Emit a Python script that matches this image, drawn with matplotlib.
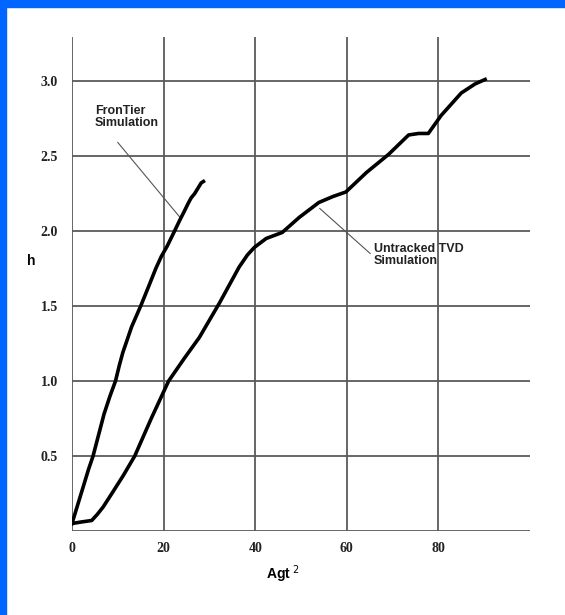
import matplotlib
matplotlib.use("Agg")
import matplotlib.pyplot as plt
from matplotlib.patches import Rectangle

# FronTier simulation curve
frontier_x = [0, 1.2, 2.5, 3.6, 4.6, 5.8, 7.0, 8.3, 9.5, 10.3, 11.1, 12.0, 13.0, 14.0, 15.0,
              16.6, 18.3, 19.5, 20.8, 22.4, 23.5, 24.5, 25.3, 26.0, 26.8, 27.6, 28.2, 28.7]
frontier_h = [0.05, 0.17, 0.30, 0.41, 0.50, 0.64, 0.78, 0.90, 1.00, 1.10, 1.19, 1.27, 1.36, 1.43, 1.50,
              1.62, 1.75, 1.83, 1.90, 2.00, 2.07, 2.13, 2.18, 2.22, 2.25, 2.29, 2.32, 2.33]

# Untracked TVD simulation curve
tvd_x = [0, 2.0, 4.3, 5.5, 6.8, 8.7, 11.2, 13.7, 17.3, 21.1, 24.5, 27.8, 32.2, 36.5, 38.3, 39.8, 42.4,
         45.9, 49.6, 53.9, 57.0, 59.8, 64.3, 69.1, 73.5, 75.7, 77.8, 79.2, 80.6, 85.0, 88.0, 90.2]
tvd_h = [0.05, 0.06, 0.07, 0.11, 0.16, 0.25, 0.37, 0.50, 0.75, 1.00, 1.15, 1.29, 1.52, 1.76, 1.84, 1.89, 1.95,
         1.99, 2.09, 2.19, 2.23, 2.26, 2.39, 2.51, 2.64, 2.65, 2.65, 2.71, 2.77, 2.92, 2.98, 3.01]

x_ticks = [0, 20, 40, 60, 80]
x_tick_labels = ["0", "20", "40", "60", "80"]
y_ticks = [0.5, 1.0, 1.5, 2.0, 2.5, 3.0]
y_tick_labels = ["0.5", "1.0", "1.5", "2.0", "2.5", "3.0"]

W, H = 565, 615
fig = plt.figure(figsize=(W / 100, H / 100), dpi=100)
fig.patch.set_facecolor("white")

# blue frame on top and left edges
fig.patches.append(Rectangle((0, 1 - 7 / H), 1, 7 / H, transform=fig.transFigure,
                             color="#0066ff", zorder=0))
fig.patches.append(Rectangle((0, 0), 6 / W, 1, transform=fig.transFigure,
                             color="#0066ff", zorder=0))

ax = fig.add_axes([72 / W, (H - 531) / H, (530 - 72) / W, (531 - 37) / H])
ax.set_xlim(0, 100)
ax.set_ylim(0, 3.293)

grid_col = "#5a5a5a"
for v in x_ticks:
    ax.axvline(v, color=grid_col, lw=1.3, zorder=1)
ax.axhline(0, color=grid_col, lw=1.3, zorder=1)
for v in y_ticks:
    ax.axhline(v, color=grid_col, lw=1.3, zorder=1)

for s in ax.spines.values():
    s.set_visible(False)

ax.plot(frontier_x, frontier_h, color="black", lw=2.6, zorder=3, solid_joinstyle="round")
ax.plot(tvd_x, tvd_h, color="black", lw=2.6, zorder=3, solid_joinstyle="round")

ax.set_xticks(x_ticks)
ax.set_xticklabels(x_tick_labels, family="Liberation Serif", fontsize=10, fontweight="bold")
ax.set_yticks(y_ticks)
ax.set_yticklabels(y_tick_labels, family="Liberation Serif", fontsize=10, fontweight="bold")
ax.tick_params(length=0, pad=8, labelcolor="#222222")
ax.tick_params(axis="y", pad=10)

ax.set_xlabel("Agt$^{\\ 2}$", family="Liberation Sans", fontweight="bold", fontsize=10)
ax.xaxis.set_label_coords(0.46, -0.065)
ax.set_ylabel("h", family="Liberation Sans", fontweight="bold", fontsize=10, rotation=0,
              va="center", ha="center")
ax.yaxis.set_label_coords(-0.09, 0.546)

# annotations with leader lines
ax.plot([10.0, 23.6], [2.59, 2.09], color="#555555", lw=0.8, zorder=2)
ax.text(5.0, 2.84, "FronTier\nSimulation", family="Liberation Sans", fontweight="bold",
        fontsize=9, va="top", ha="left", linespacing=1.0, color="#222222")
ax.plot([54.1, 65.1], [2.15, 1.85], color="#555555", lw=0.8, zorder=2)
ax.text(65.9, 1.92, "Untracked TVD\nSimulation", family="Liberation Sans", fontweight="bold",
        fontsize=9, va="top", ha="left", linespacing=1.0, color="#222222")

fig.savefig("out.png", dpi=100)
